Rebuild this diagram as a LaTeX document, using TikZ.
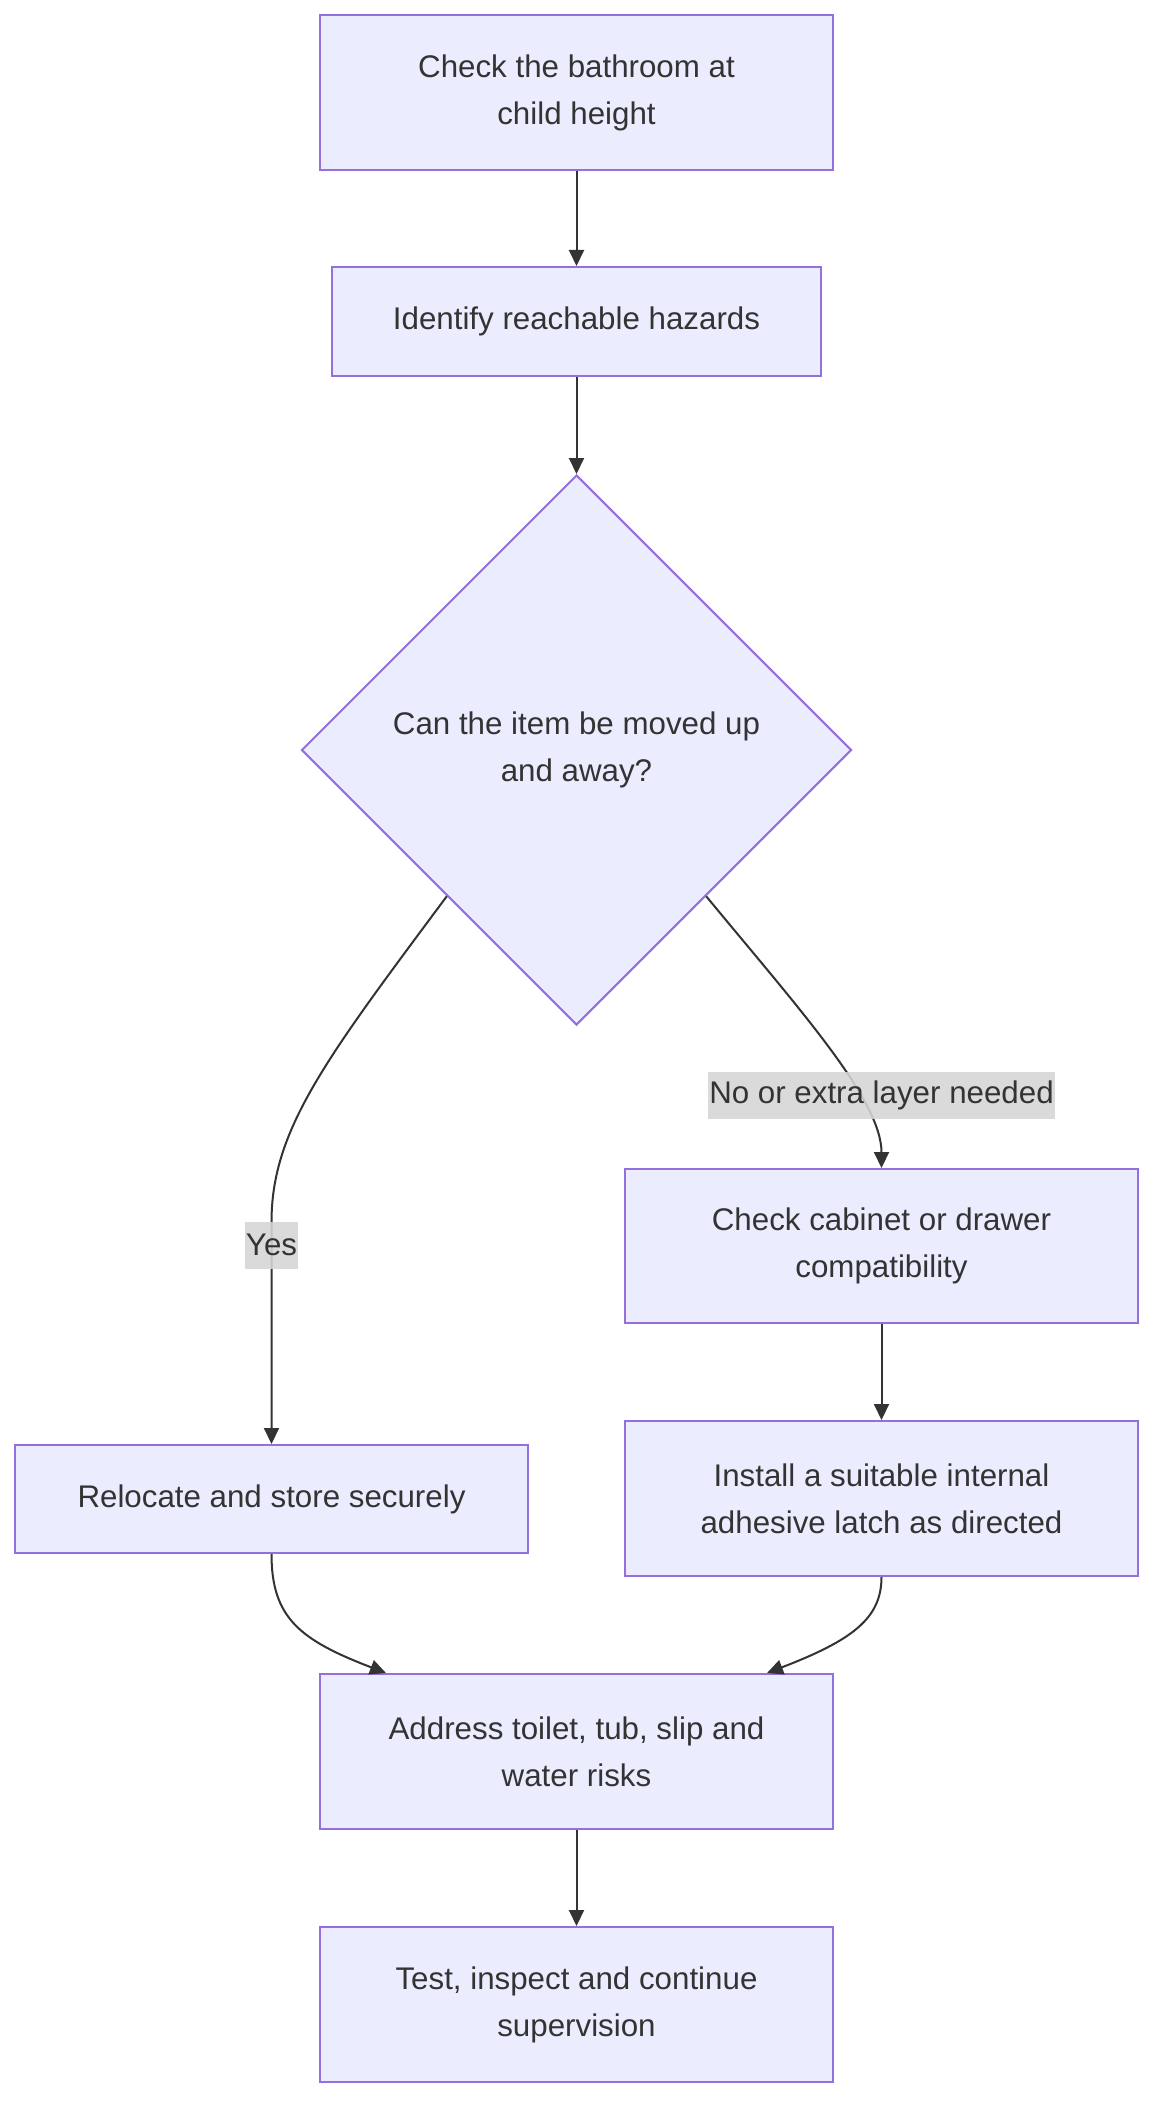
\documentclass[tikz,border=0pt]{standalone}
\usepackage{fontspec}
\setmainfont{Liberation Sans}
\usetikzlibrary{shapes.geometric,arrows.meta,calc}
\definecolor{boxfill}{HTML}{ECECFF}
\definecolor{boxline}{HTML}{9370DB}
\definecolor{ink}{HTML}{333333}
\definecolor{lblfill}{HTML}{D6D6D6}
\tikzset{
  procbox/.style={rectangle, draw=boxline, fill=boxfill, line width=2pt, text=ink,
    align=center, inner sep=0pt, font=\fontsize{31.3}{47}\selectfont},
  decbox/.style={diamond, draw=boxline, fill=boxfill, line width=2pt, text=ink,
    align=center, inner sep=0pt, font=\fontsize{31.3}{47}\selectfont},
  conn/.style={draw=ink, line width=2pt, -{Triangle[length=16pt,width=15pt]}},
  edgelbl/.style={rectangle, fill=lblfill, fill opacity=0.88, text opacity=1, text=ink,
    inner xsep=1pt, inner ysep=0pt, minimum height=47pt,
    font=\fontsize{31.3}{47}\selectfont}
}
\begin{document}
\begin{tikzpicture}[x=1pt,y=-1pt]
\fill[white] (0,0) rectangle (1170,2124);
\useasboundingbox (0,0) rectangle (1170,2124);

\node[procbox, minimum width=513pt, minimum height=155pt] (n1) at (576.5,92.5) {Check the bathroom at\\child height};
\node[procbox, minimum width=489pt, minimum height=109pt] (n2) at (576.5,321.5) {Identify reachable hazards};
\node[decbox, minimum width=550pt, minimum height=550pt] (d) at (576.5,750) {Can the item be moved up\\and away?};
\node[procbox, minimum width=513pt, minimum height=154pt] (n3) at (881.5,1246) {Check cabinet or drawer\\compatibility};
\node[procbox, minimum width=513pt, minimum height=155pt] (n4) at (881.5,1498.5) {Install a suitable internal\\adhesive latch as directed};
\node[procbox, minimum width=513pt, minimum height=108pt] (n5) at (271.5,1499) {Relocate and store securely};
\node[procbox, minimum width=513pt, minimum height=155pt] (n6) at (576.5,1751.5) {Address toilet, tub, slip and\\water risks};
\node[procbox, minimum width=513pt, minimum height=155pt] (n7) at (576.5,2004.5) {Test, inspect and continue\\supervision};

\coordinate (outL) at ($(d.west)!0.53!(d.south)$);
\coordinate (outR) at ($(d.east)!0.53!(d.south)$);
\coordinate (inL) at ($(n6.north west)+(67,0)$);
\coordinate (inR) at ($(n6.north east)+(-67,0)$);

\draw[conn] (n1.south) -- (n2.north);
\draw[conn] (n2.south) -- (d.north);
\draw[conn] (outL) .. controls (325,1060) and (271.5,1130) .. (271.5,1222) -- (n5.north);
\draw[conn] (outR) .. controls (800,1010) and (881.5,1100) .. (n3.north);
\draw[conn] (n3.south) -- (n4.north);
\draw[conn] (n5.south) .. controls (271.5,1618) and (300,1640) .. (inL);
\draw[conn] (n4.south) .. controls (881.5,1618) and (853,1640) .. (inR);
\draw[conn] (n6.south) -- (n7.north);

\node[edgelbl] (ly) at (271.5,1245) {Yes};
\node[edgelbl] (ln) at (881.5,1095.5) {No or extra layer needed};
\end{tikzpicture}
\end{document}
